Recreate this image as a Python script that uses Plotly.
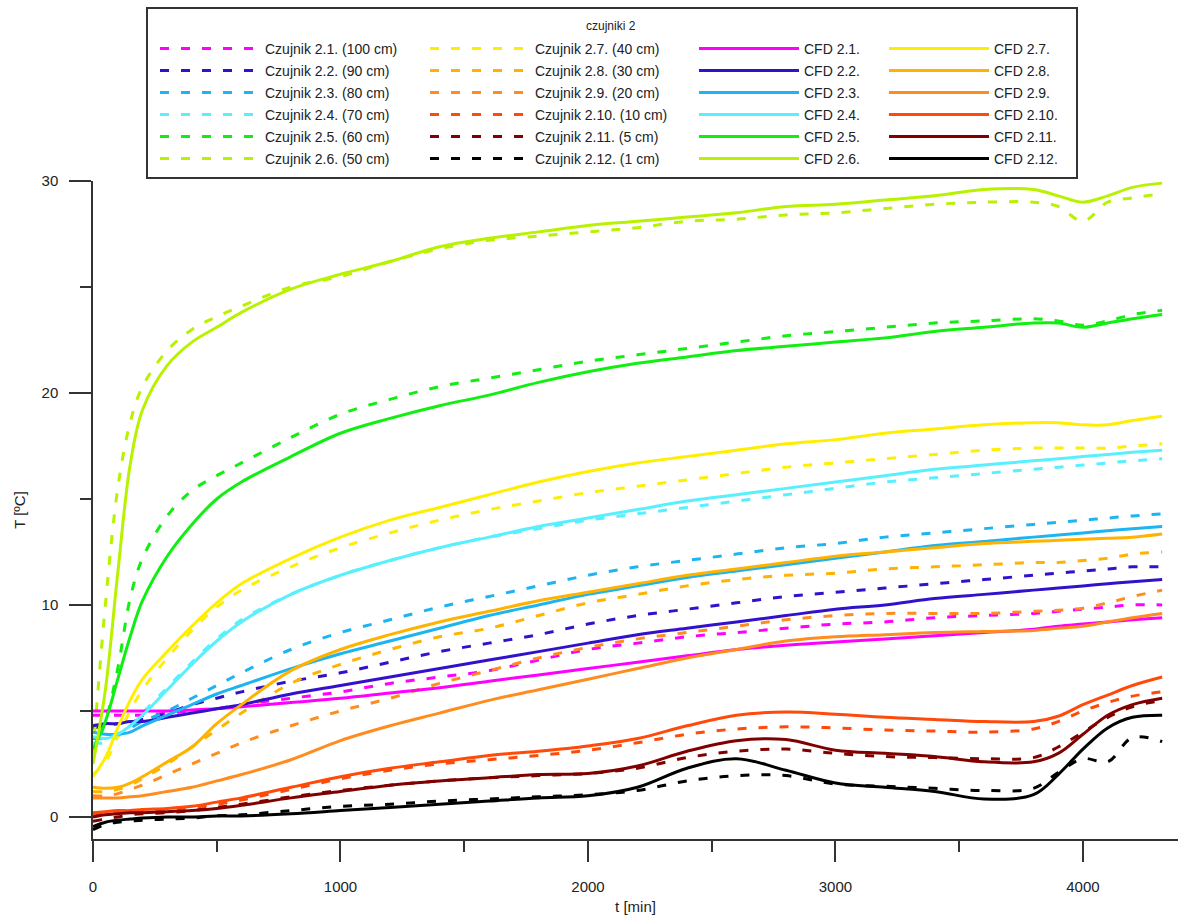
import plotly.graph_objects as go

# Time axis [min]
TIME_MIN = [0, 50, 100, 150, 200, 300, 400, 500, 600, 800, 1000, 1200, 1400, 1600,
            1800, 2000, 2200, 2400, 2600, 2800, 3000, 3200, 3400, 3600, 3800, 3900,
            4000, 4100, 4200, 4320]

SENSOR_IDS = ["2.1", "2.2", "2.3", "2.4", "2.5", "2.6",
              "2.7", "2.8", "2.9", "2.10", "2.11", "2.12"]
SENSOR_DEPTH_CM = [100, 90, 80, 70, 60, 50, 40, 30, 20, 10, 5, 1]

# Measured temperatures [degC]
sensor_2_1 = [4.8, 4.8, 4.8, 4.8, 4.8, 4.9, 5.0, 5.1, 5.3, 5.6, 5.9, 6.3, 6.6, 6.9, 7.4,
              7.9, 8.2, 8.5, 8.7, 8.9, 9.1, 9.2, 9.4, 9.5, 9.6, 9.7, 9.8, 9.9, 10.0, 10.0]
sensor_2_2 = [4.2, 4.3, 4.4, 4.5, 4.6, 4.9, 5.3, 5.6, 5.9, 6.4, 6.8, 7.3, 7.8, 8.2, 8.6,
              9.1, 9.5, 9.8, 10.1, 10.4, 10.6, 10.8, 11.0, 11.2, 11.4, 11.5, 11.6, 11.7, 11.8, 11.8]
sensor_2_3 = [3.7, 3.7, 3.9, 4.2, 4.5, 5.0, 5.6, 6.2, 6.8, 7.9, 8.7, 9.3, 9.9, 10.4, 10.9,
              11.4, 11.8, 12.1, 12.4, 12.7, 12.9, 13.2, 13.4, 13.6, 13.8, 13.9, 14.0, 14.1, 14.2, 14.3]
sensor_2_4 = [3.5, 3.5, 3.8, 4.3, 4.9, 6.1, 7.3, 8.4, 9.3, 10.5, 11.4, 12.1, 12.7, 13.2, 13.6,
              14.0, 14.3, 14.6, 14.9, 15.2, 15.5, 15.8, 16.0, 16.2, 16.4, 16.5, 16.6, 16.7, 16.8, 16.9]
sensor_2_5 = [3.0, 4.5, 7.0, 10.3, 12.2, 14.2, 15.4, 16.1, 16.7, 17.9, 19.0, 19.7, 20.3, 20.7, 21.1,
              21.5, 21.8, 22.1, 22.4, 22.7, 22.9, 23.1, 23.3, 23.4, 23.5, 23.4, 23.2, 23.4, 23.7, 23.9]
sensor_2_6 = [3.0, 10.0, 15.5, 18.6, 20.3, 22.0, 23.0, 23.6, 24.1, 25.0, 25.5, 26.2, 26.8, 27.2, 27.4,
              27.6, 27.8, 28.1, 28.2, 28.4, 28.5, 28.7, 28.9, 29.0, 29.0, 28.8, 28.1, 29.0, 29.2, 29.4]
sensor_2_7 = [2.0, 2.6, 3.8, 5.0, 6.0, 7.5, 8.8, 9.9, 10.7, 11.8, 12.7, 13.4, 14.0, 14.5, 14.9,
              15.3, 15.6, 15.9, 16.2, 16.5, 16.7, 16.9, 17.1, 17.3, 17.4, 17.4, 17.4, 17.4, 17.5, 17.6]
sensor_2_8 = [1.2, 1.2, 1.3, 1.5, 1.8, 2.5, 3.3, 4.1, 4.9, 6.3, 7.2, 7.9, 8.5, 8.9, 9.5,
              10.1, 10.5, 10.9, 11.2, 11.4, 11.5, 11.7, 11.8, 11.9, 12.0, 12.0, 12.1, 12.2, 12.4, 12.5]
sensor_2_9 = [1.0, 1.0, 1.1, 1.3, 1.5, 2.0, 2.5, 3.0, 3.5, 4.3, 5.0, 5.6, 6.3, 6.9, 7.5,
              8.0, 8.4, 8.7, 9.0, 9.3, 9.5, 9.6, 9.6, 9.6, 9.7, 9.75, 9.85, 10.1, 10.4, 10.7]
sensor_2_10 = [0.1, 0.15, 0.2, 0.25, 0.3, 0.35, 0.45, 0.6, 0.8, 1.3, 1.8, 2.2, 2.5, 2.7, 2.9,
               3.15, 3.5, 3.9, 4.15, 4.25, 4.2, 4.1, 4.05, 4.0, 4.15, 4.5, 5.0, 5.4, 5.7, 5.9]
sensor_2_11 = [-0.2, -0.1, 0.0, 0.1, 0.15, 0.2, 0.3, 0.45, 0.6, 0.95, 1.25, 1.5, 1.7, 1.85, 1.95,
               2.05, 2.3, 2.8, 3.1, 3.2, 3.0, 2.85, 2.8, 2.75, 2.8, 3.3, 4.0, 4.7, 5.2, 5.5]
sensor_2_12 = [-0.6, -0.35, -0.25, -0.2, -0.15, -0.1, -0.05, 0.05, 0.1, 0.3, 0.5, 0.6, 0.75, 0.85, 0.95,
               1.05, 1.25, 1.7, 1.95, 1.95, 1.55, 1.45, 1.35, 1.25, 1.35, 2.1, 2.75, 2.6, 3.75, 3.55]

# CFD model temperatures [degC]
cfd_2_1 = [5.0, 5.0, 5.0, 5.0, 5.0, 5.0, 5.05, 5.1, 5.2, 5.4, 5.6, 5.85, 6.1, 6.4, 6.7,
           7.0, 7.3, 7.6, 7.9, 8.1, 8.25, 8.4, 8.55, 8.7, 8.85, 9.0, 9.1, 9.2, 9.3, 9.4]
cfd_2_2 = [4.3, 4.4, 4.4, 4.5, 4.5, 4.7, 4.9, 5.1, 5.3, 5.8, 6.2, 6.6, 7.0, 7.4, 7.8,
           8.2, 8.6, 8.9, 9.2, 9.5, 9.8, 10.0, 10.3, 10.5, 10.7, 10.8, 10.9, 11.0, 11.1, 11.2]
cfd_2_3 = [4.0, 3.9, 3.9, 4.0, 4.3, 4.8, 5.3, 5.8, 6.2, 7.0, 7.7, 8.3, 8.9, 9.5, 10.0,
           10.5, 10.9, 11.3, 11.6, 11.9, 12.2, 12.5, 12.8, 13.0, 13.2, 13.3, 13.4, 13.5, 13.6, 13.7]
cfd_2_4 = [3.8, 3.7, 3.9, 4.3, 4.8, 6.0, 7.2, 8.3, 9.2, 10.5, 11.4, 12.1, 12.7, 13.2, 13.7,
           14.1, 14.5, 14.9, 15.2, 15.5, 15.8, 16.1, 16.4, 16.6, 16.8, 16.9, 17.0, 17.1, 17.2, 17.3]
cfd_2_5 = [3.2, 4.5, 6.5, 8.5, 10.2, 12.3, 13.8, 15.0, 15.8, 17.0, 18.1, 18.8, 19.4, 19.9, 20.5,
           21.0, 21.4, 21.7, 22.0, 22.2, 22.4, 22.6, 22.9, 23.1, 23.3, 23.3, 23.1, 23.3, 23.5, 23.7]
cfd_2_6 = [2.5, 6.0, 11.5, 16.6, 19.2, 21.3, 22.4, 23.1, 23.8, 24.9, 25.6, 26.2, 26.9, 27.3, 27.6,
           27.9, 28.1, 28.3, 28.5, 28.8, 28.9, 29.1, 29.3, 29.6, 29.6, 29.3, 29.0, 29.3, 29.7, 29.9]
cfd_2_7 = [1.9, 2.8, 4.2, 5.5, 6.5, 7.8, 9.0, 10.1, 11.0, 12.2, 13.2, 14.0, 14.6, 15.2, 15.8,
           16.3, 16.7, 17.0, 17.3, 17.6, 17.8, 18.1, 18.3, 18.5, 18.6, 18.6, 18.5, 18.5, 18.7, 18.9]
cfd_2_8 = [1.4, 1.35, 1.4, 1.6, 1.9, 2.6, 3.3, 4.4, 5.3, 6.9, 7.9, 8.6, 9.2, 9.7, 10.2,
           10.6, 11.0, 11.4, 11.7, 12.0, 12.3, 12.5, 12.7, 12.9, 13.0, 13.05, 13.1, 13.15, 13.2, 13.35]
cfd_2_9 = [0.9, 0.9, 0.9, 0.95, 1.0, 1.2, 1.4, 1.7, 2.0, 2.7, 3.6, 4.3, 4.9, 5.5, 6.0,
           6.5, 7.0, 7.5, 7.9, 8.3, 8.5, 8.6, 8.7, 8.75, 8.8, 8.9, 9.0, 9.2, 9.4, 9.6]
cfd_2_10 = [0.2, 0.25, 0.3, 0.3, 0.35, 0.4, 0.5, 0.7, 0.9, 1.4, 1.9, 2.3, 2.6, 2.9, 3.1,
            3.35, 3.7, 4.3, 4.8, 4.95, 4.85, 4.7, 4.6, 4.5, 4.5, 4.75, 5.3, 5.75, 6.2, 6.6]
cfd_2_11 = [0.0, 0.1, 0.15, 0.2, 0.2, 0.25, 0.3, 0.4, 0.55, 0.9, 1.2, 1.5, 1.7, 1.85, 2.0,
            2.05, 2.4, 3.1, 3.6, 3.65, 3.15, 3.0, 2.85, 2.6, 2.6, 3.0, 3.9, 4.8, 5.3, 5.6]
cfd_2_12 = [-0.45, -0.25, -0.15, -0.1, -0.05, 0.0, 0.0, 0.05, 0.05, 0.15, 0.3, 0.45, 0.6, 0.75, 0.9,
            1.0, 1.4, 2.3, 2.75, 2.2, 1.6, 1.4, 1.2, 0.85, 1.05, 2.0, 3.2, 4.2, 4.7, 4.8]

SENSOR_SERIES = [sensor_2_1, sensor_2_2, sensor_2_3, sensor_2_4, sensor_2_5, sensor_2_6,
                 sensor_2_7, sensor_2_8, sensor_2_9, sensor_2_10, sensor_2_11, sensor_2_12]
CFD_SERIES = [cfd_2_1, cfd_2_2, cfd_2_3, cfd_2_4, cfd_2_5, cfd_2_6,
              cfd_2_7, cfd_2_8, cfd_2_9, cfd_2_10, cfd_2_11, cfd_2_12]

COLORS = ["#FF00FF", "#3311CC", "#1DB4F2", "#58F0FF", "#11EE11", "#B8F200",
          "#FFEE00", "#FFB300", "#FF8C1F", "#FF4A0A", "#800000", "#000000"]

FONT = "Liberation Sans, Arial, sans-serif"
W, H = 1181, 919
M_L, M_R, M_T, M_B = 93, 3, 181, 80
PW, PH = W - M_L - M_R, H - M_T - M_B


def px_x(x):
    return (x - M_L) / PW


def px_y(y):
    return (H - M_B - y) / PH


fig = go.Figure()

for i, (sid, depth, vals) in enumerate(zip(SENSOR_IDS, SENSOR_DEPTH_CM, SENSOR_SERIES)):
    fig.add_trace(go.Scatter(
        x=TIME_MIN, y=vals, mode="lines",
        name=f"Czujnik {sid}. ({depth} cm)",
        line=dict(color=COLORS[i], width=3, dash="9px,12px", shape="spline", smoothing=1.0),
        legend="legend" if i < 6 else "legend2",
        legendgroup=f"s{sid}",
    ))

for i, (sid, vals) in enumerate(zip(SENSOR_IDS, CFD_SERIES)):
    fig.add_trace(go.Scatter(
        x=TIME_MIN, y=vals, mode="lines",
        name=f"CFD {sid}.",
        line=dict(color=COLORS[i], width=3, shape="spline", smoothing=1.0),
        legend="legend3" if i < 6 else "legend4",
        legendgroup=f"c{sid}",
    ))

legend_common = dict(
    orientation="v", xanchor="left", yanchor="top",
    bgcolor="rgba(0,0,0,0)", borderwidth=0,
    font=dict(family=FONT, size=14, color="#222"),
    itemwidth=100, tracegroupgap=0.8, itemclick=False, itemdoubleclick=False,
)
legend_left_px = [155, 425, 694, 884]
legend_top_px = 33

fig.update_layout(
    width=W, height=H,
    margin=dict(l=M_L, r=M_R, t=M_T, b=M_B, autoexpand=False),
    paper_bgcolor="white", plot_bgcolor="white",
    font=dict(family=FONT, size=15, color="#222"),
    legend=dict(x=px_x(legend_left_px[0]), y=px_y(legend_top_px), **legend_common),
    legend2=dict(x=px_x(legend_left_px[1]), y=px_y(legend_top_px), **legend_common),
    legend3=dict(x=px_x(legend_left_px[2]), y=px_y(legend_top_px), **legend_common),
    legend4=dict(x=px_x(legend_left_px[3]), y=px_y(legend_top_px), **legend_common),
    xaxis=dict(
        range=[0, 4384], tick0=0, dtick=1000, showgrid=False, zeroline=False,
        showline=True, linecolor="#333", linewidth=1.5,
        ticks="outside", ticklen=21, tickwidth=1.5, tickcolor="#333",
        minor=dict(dtick=500, ticks="outside", ticklen=11, tickwidth=1.5, tickcolor="#333"),
        tickfont=dict(family=FONT, size=15, color="#222"),
        ticklabelstandoff=12,
        title=dict(text="t [min]", font=dict(family=FONT, size=15, color="#222"), standoff=8),
    ),
    yaxis=dict(
        range=[-1.04, 30], tick0=0, dtick=10, showgrid=False, zeroline=False,
        showline=True, linecolor="#333", linewidth=1.5,
        ticks="outside", ticklen=22, tickwidth=1.5, tickcolor="#333",
        minor=dict(dtick=5, ticks="outside", ticklen=11, tickwidth=1.5, tickcolor="#333"),
        tickfont=dict(family=FONT, size=15, color="#222"),
        ticklabelstandoff=8,
        title=dict(text="T [ºC]", font=dict(family=FONT, size=15, color="#222"), standoff=12),
    ),
    shapes=[dict(
        type="rect", xref="paper", yref="paper",
        x0=px_x(147), x1=px_x(1077), y0=px_y(178), y1=px_y(8),
        line=dict(color="#333", width=2), fillcolor="rgba(0,0,0,0)", layer="above",
    )],
    annotations=[dict(
        text="czujniki 2", xref="paper", yref="paper",
        x=px_x(611), y=px_y(26), xanchor="center", yanchor="middle",
        showarrow=False, font=dict(family=FONT, size=12, color="#222"),
    )],
)

fig.write_html("out.html")
